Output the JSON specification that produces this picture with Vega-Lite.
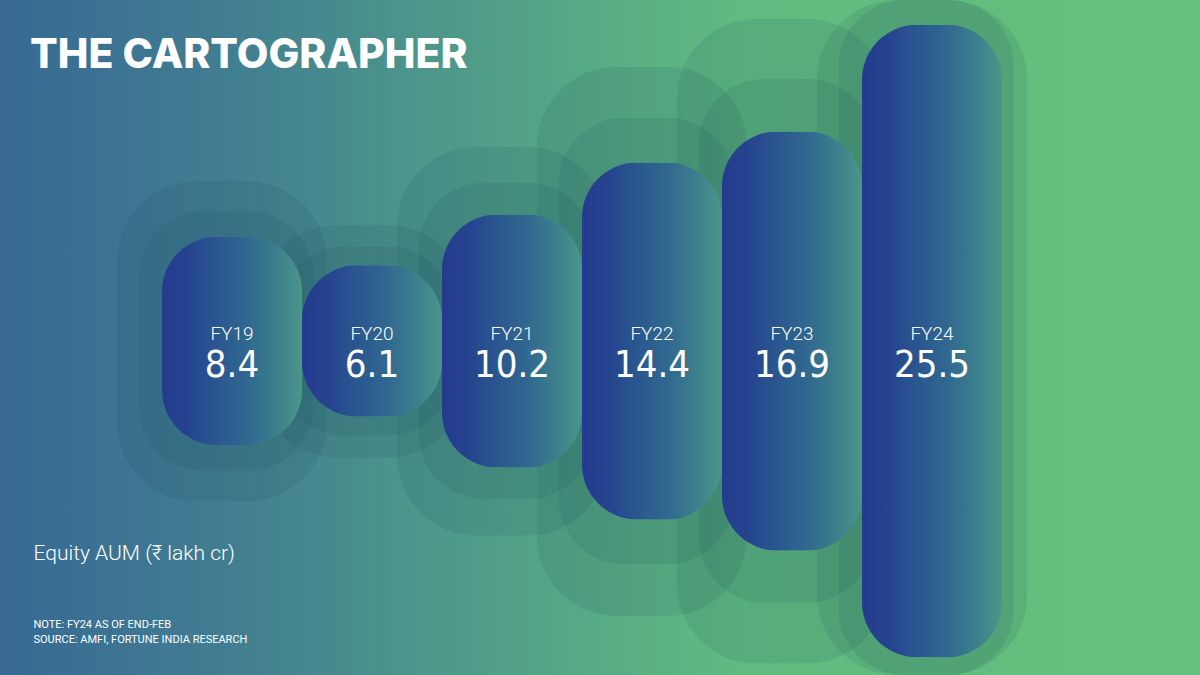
{
  "$schema": "https://vega.github.io/schema/vega-lite/v6.json",
  "width": 1200,
  "height": 675,
  "autosize": {"type": "none"},
  "padding": 0,
  "background": "#4f9a8a",
  "title": {
    "text": "THE CARTOGRAPHER",
    "anchor": "start",
    "frame": "group",
    "orient": "top",
    "offset": -109,
    "dx": 30,
    "baseline": "alphabetic",
    "font": "Inter",
    "fontWeight": 800,
    "fontSize": 41,
    "color": "#ffffff"
  },
  "data": {
    "values": [
      {"fy": "FY19", "aum": 8.4},
      {"fy": "FY20", "aum": 6.1},
      {"fy": "FY21", "aum": 10.2},
      {"fy": "FY22", "aum": 14.4},
      {"fy": "FY23", "aum": 16.9},
      {"fy": "FY24", "aum": 25.5}
    ]
  },
  "encoding": {
    "x": {
      "field": "fy",
      "type": "nominal",
      "sort": null,
      "scale": {"paddingInner": 0, "paddingOuter": 1, "align": 0.5, "range": [22, 1142]},
      "axis": {
        "domain": false,
        "ticks": false,
        "labels": false,
        "grid": false,
        "title": "Equity AUM (₹ lakh cr)",
        "titleX": 33,
        "titleY": -116,
        "titleAnchor": "start",
        "titleAlign": "left",
        "titleBaseline": "alphabetic",
        "titleFont": "Roboto",
        "titleFontWeight": 300,
        "titleFontSize": 21,
        "titleColor": "#ffffff"
      }
    }
  },
  "layer": [
    {
      "mark": {"type": "bar", "width": {"band": 1.5}, "xOffset": -10, "cornerRadius": 80, "fill": "#1a4a5a", "opacity": 0.12},
      "encoding": {
        "y": {"field": "aum", "type": "quantitative", "stack": "center", "scale": {"domain": [4.0, 21.7], "nice": false, "zero": false, "clamp": true}, "axis": null}
      }
    },
    {
      "mark": {"type": "bar", "width": {"band": 1.25}, "xOffset": -6, "cornerRadius": 66, "fill": "#1a4a5a", "opacity": 0.12},
      "encoding": {
        "y": {"field": "aum", "type": "quantitative", "stack": "center", "scale": {"domain": [1.97, 23.75], "nice": false, "zero": false, "clamp": true}, "axis": null}
      }
    },
    {
      "mark": {
        "type": "bar",
        "width": {"band": 1.0},
        "cornerRadius": 55,
        "fill": {
          "gradient": "linear",
          "x1": 0, "y1": 0, "x2": 1, "y2": 0,
          "stops": [
            {"offset": 0, "color": "#243b8e"},
            {"offset": 0.2, "color": "#26448f"},
            {"offset": 0.35, "color": "#29538f"},
            {"offset": 0.6, "color": "#306790"},
            {"offset": 0.8, "color": "#3b7d8d"},
            {"offset": 1, "color": "#4b968a"}
          ]
        }
      },
      "encoding": {
        "y": {"field": "aum", "type": "quantitative", "stack": "center", "scale": {"domain": [-0.72, 26.5], "nice": false, "zero": false}, "axis": null}
      }
    },
    {
      "mark": {"type": "text", "dy": -1, "baseline": "alphabetic", "align": "center", "font": "Roboto", "fontWeight": 300, "fontSize": 19, "color": "#ffffff"},
      "encoding": {
        "y": {"datum": 12.75, "type": "quantitative", "scale": {"domain": [-0.72, 26.5], "nice": false, "zero": false}, "axis": null},
        "text": {"field": "fy", "type": "nominal"}
      }
    },
    {
      "mark": {"type": "text", "dy": 36, "baseline": "alphabetic", "align": "center", "font": "'Liberation Sans Narrow', 'DejaVu Sans Condensed', Roboto, sans-serif", "fontWeight": 400, "fontSize": 38, "color": "#ffffff"},
      "encoding": {
        "y": {
          "datum": 12.75,
          "type": "quantitative",
          "scale": {"domain": [-0.72, 26.5], "nice": false, "zero": false},
          "axis": {
            "domain": false,
            "ticks": false,
            "labels": false,
            "grid": false,
            "title": ["NOTE: FY24 AS OF END-FEB", "SOURCE: AMFI, FORTUNE INDIA RESEARCH"],
            "titleAngle": 0,
            "titleX": 33,
            "titleY": 627,
            "titleAnchor": "start",
            "titleAlign": "left",
            "titleBaseline": "alphabetic",
            "titleLineHeight": 15.5,
            "titleFont": "Roboto",
            "titleFontWeight": 400,
            "titleFontSize": 11,
            "titleColor": "#ffffff"
          }
        },
        "text": {"field": "aum", "type": "quantitative", "format": ".1f"}
      }
    }
  ],
  "resolve": {"scale": {"y": "independent"}},
  "config": {
    "view": {
      "stroke": null,
      "fill": {
        "gradient": "linear",
        "x1": 0, "y1": 0, "x2": 1, "y2": 0,
        "stops": [
          {"offset": 0, "color": "#376994"},
          {"offset": 0.2, "color": "#427f91"},
          {"offset": 0.35, "color": "#4c968b"},
          {"offset": 0.5, "color": "#57ab85"},
          {"offset": 0.62, "color": "#60bb80"},
          {"offset": 1, "color": "#64c17c"}
        ]
      }
    }
  }
}
